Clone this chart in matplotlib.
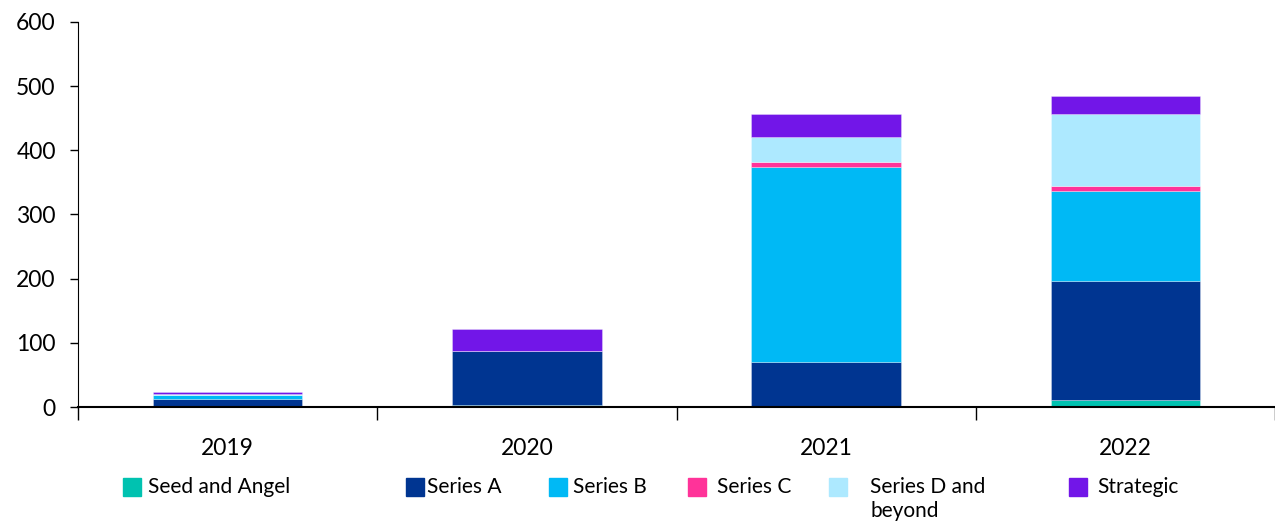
import numpy as np
import matplotlib.pyplot as plt
from matplotlib.patches import Rectangle

plt.rcParams['font.family'] = ['Lato', 'DejaVu Sans']

# %%
years = ["2019", "2020", "2021", "2022"]
stages = ["Seed and Angel", "Series A", "Series B", "Series C",
          "Series D and\nbeyond", "Strategic"]
seed = [1, 3, 2, 11]
series_a = [11, 85, 68, 186]
series_b = [6, 0, 304, 140]
series_c = [0, 0, 8, 7]
series_d = [3, 0, 39, 113]
strategic = [2, 34, 36, 28]
colors = ["#00C2B0", "#003591", "#00B9F5", "#FF3399", "#ADE9FF", "#7216E8"]

# %%
fig = plt.figure(figsize=(12.75, 5.23), dpi=100)
ax = fig.add_axes([78 / 1275, 1 - 407 / 523, 1197 / 1275, 385 / 523])

x = np.arange(len(years))
bottom = np.zeros(len(years))
for vals, col in zip([seed, series_a, series_b, series_c, series_d, strategic], colors):
    ax.bar(x, vals, width=0.5, bottom=bottom, color=col,
           edgecolor=(1, 1, 1, 0.35), linewidth=0.6)
    bottom += np.array(vals)

ax.set_xlim(-0.5, 3.5)
ax.set_ylim(0, 600)
ax.set_yticks(range(0, 601, 100))
ax.tick_params(axis="y", labelsize=16.5, length=6, width=1, direction="out", pad=10)

# category labels sit between the boundary ticks
ax.set_xticks(x)
ax.set_xticklabels(years, fontsize=16.5)
ax.tick_params(axis="x", which="major", length=0, pad=22)
ax.set_xticks(np.arange(-0.5, 4, 1), minor=True)
ax.tick_params(axis="x", which="minor", length=9, width=1, direction="out")

for s in ["top", "right"]:
    ax.spines[s].set_visible(False)
ax.spines["left"].set_color("black")
ax.spines["bottom"].set_color("black")
ax.spines["bottom"].set_linewidth(1.5)

# %%
# legend drawn as a row of swatches
patch_x = [123, 406, 549, 688, 829, 1069]
text_x = [148, 427, 573, 717, 870, 1097]
for px, tx, lab, col in zip(patch_x, text_x, stages, colors):
    fig.add_artist(Rectangle((px / 1275, 1 - 496 / 523), 18 / 1275, 18 / 523,
                             transform=fig.transFigure, color=col))
    fig.text(tx / 1275, 1 - 477 / 523, lab, fontsize=15, va="top",
             ha="left", linespacing=1.25)

fig.savefig("out.png", dpi=100)
